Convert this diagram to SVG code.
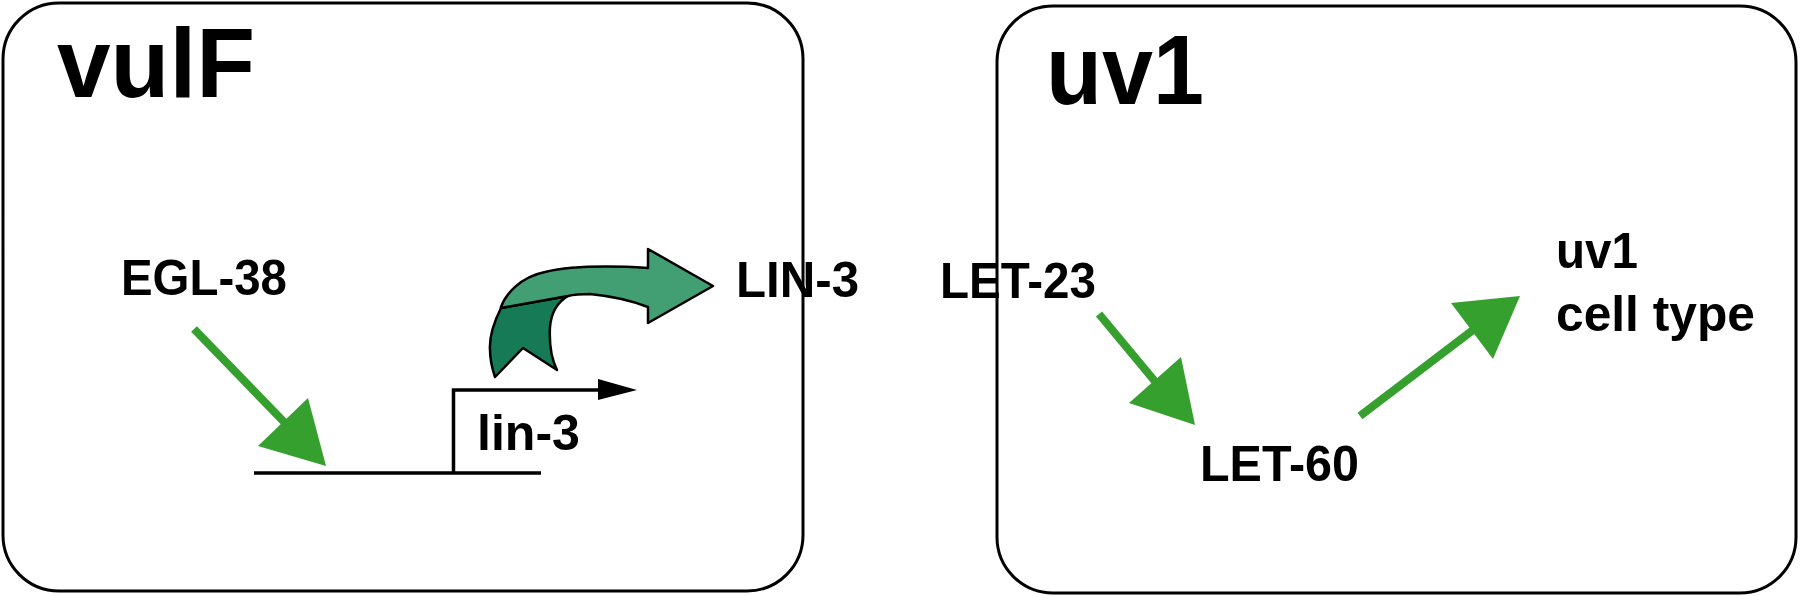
<svg xmlns="http://www.w3.org/2000/svg" width="1800" height="596" viewBox="0 0 1800 596">
<style>
.box{fill:#fff;stroke:#000;stroke-width:3}
.t{font-family:"Liberation Sans",Arial,sans-serif;font-weight:bold;fill:#000}
.big{font-size:98px}
.lbl{font-size:50px}
.g{stroke:#35a02d;stroke-width:8;fill:none}
.gh{fill:#35a02d}
.k{stroke:#000;stroke-width:3.5;fill:none}
</style>
<g id="vulF">
<rect class="box" x="3" y="3" width="800" height="588" rx="56" ry="56"/>
<text class="t big" x="57" y="97" textLength="198" lengthAdjust="spacingAndGlyphs">vulF</text>
</g>
<g id="uv1">
<rect class="box" x="997" y="6" width="799" height="587" rx="56" ry="56"/>
<text class="t big" x="1046" y="104" textLength="158" lengthAdjust="spacingAndGlyphs">uv1</text>
</g>
<g id="EGL-38"><text class="t lbl" x="121" y="295" textLength="166" lengthAdjust="spacingAndGlyphs">EGL-38</text></g>
<g id="LIN-3"><text class="t lbl" x="736" y="297" textLength="123" lengthAdjust="spacingAndGlyphs">LIN-3</text></g>
<g id="lin-3-gene">
<path class="k" d="M254,473 H541 M453.5,473 V390 H602"/>
<polygon points="598,379 637,390 598,400" fill="#000"/>
<text class="t lbl" x="477" y="450" textLength="103" lengthAdjust="spacingAndGlyphs">lin-3</text>
</g>
<g id="LET-23"><text class="t lbl" x="940" y="298" textLength="156" lengthAdjust="spacingAndGlyphs">LET-23</text></g>
<g id="LET-60"><text class="t lbl" x="1200" y="481" textLength="159" lengthAdjust="spacingAndGlyphs">LET-60</text></g>
<g id="uv1-cell-type">
<text class="t lbl" x="1556" y="268" textLength="82" lengthAdjust="spacingAndGlyphs">uv1</text>
<text class="t lbl" x="1556" y="331" textLength="199" lengthAdjust="spacingAndGlyphs">cell type</text>
</g>
<g id="connectors">
<line class="g" x1="194" y1="329" x2="286" y2="424"/>
<polygon class="gh" points="326,466 258,446 308,398"/>
<line class="g" x1="1099" y1="314" x2="1158" y2="385"/>
<polygon class="gh" points="1195,425 1129,403 1181,357"/>
<line class="g" x1="1360" y1="416" x2="1473" y2="330"/>
<polygon class="gh" points="1520,296 1451,303 1493,359"/>
<path d="M501,308 C496,318 489,335 490,350 C490,362 493,371 495,377 L523,348 L557,370 C552,360 549,345 550,327 C551,315 556,303 568,296 Z" fill="#157a55" stroke="#000" stroke-width="2.5" stroke-linejoin="round"/>
<path d="M501,307 C505,295 520,277 545,272 C575,265 615,266 648,268 L648,249 L713,286 L648,323 L648,307 C630,300 610,296 590,294 C580,294 572,295 568,296 L501,308 Z" fill="#429e73" stroke="#000" stroke-width="2.5" stroke-linejoin="round"/>
</g>
</svg>
